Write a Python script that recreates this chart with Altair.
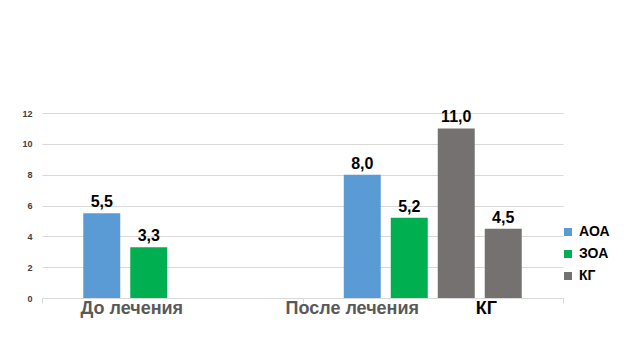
import altair as alt
import pandas as pd

categories = ["До лечения", "До лечения", "После лечения", "После лечения", "После лечения", "После лечения"]
slots = [1, 2, 1, 2, 3, 4]
groups = ["АОА", "ЗОА", "АОА", "ЗОА", "КГ", "КГ"]
values = [5.5, 3.3, 8.0, 5.2, 11.0, 4.5]

cat_order = ["До лечения", "После лечения"]
legend_names = ["АОА", "ЗОА", "КГ"]
legend_colors = ["#5B9BD5", "#00B050", "#767171"]
y_ticks = [0, 2, 4, 6, 8, 10, 12]

df = pd.DataFrame({"cat": categories, "slot": slots, "group": groups, "value": values})

W, H = 521, 185
FONT = "Liberation Sans"

x_enc = alt.X("cat:N", sort=cat_order,
              scale=alt.Scale(domain=cat_order, paddingInner=0, paddingOuter=0),
              axis=alt.Axis(title=None, labels=False, domain=False, tickBand="extent",
                            tickSize=5, tickColor="#d9d9d9", grid=False))
xo_enc = alt.XOffset("slot:O", scale=alt.Scale(domain=[1, 2, 3, 4], paddingInner=0.213, paddingOuter=0.878))
y_enc = alt.Y("value:Q", scale=alt.Scale(domain=[0, 12]),
              axis=alt.Axis(title=None, values=y_ticks, ticks=False, domain=False,
                            labelFont=FONT, labelFontWeight="bold", labelFontSize=9,
                            labelColor="#404040", labelPadding=10,
                            gridColor="#d9d9d9", gridWidth=1))

base = alt.Chart(df)

bars = base.mark_bar().encode(
    x=x_enc, xOffset=xo_enc, y=y_enc,
    color=alt.Color("group:N", scale=alt.Scale(domain=legend_names, range=legend_colors),
                    legend=alt.Legend(title=None, orient="none", legendX=519, legendY=112,
                                      symbolType="square", symbolSize=64, symbolStrokeWidth=0,
                                      labelFont=FONT, labelFontWeight="bold", labelFontSize=14,
                                      labelColor="#000000", rowPadding=8, labelOffset=4)),
)

labels = base.mark_text(baseline="alphabetic", dy=-6, font=FONT, fontWeight="bold",
                        fontSize=16, color="#000000").transform_calculate(
    lbl="replace(format(datum.value, '.1f'), '.', ',')"
).encode(x=x_enc, xOffset=xo_enc, y=y_enc, text="lbl:N")

cat_labels = pd.DataFrame({"cat": ["До лечения", "После лечения", "После лечения"],
                           "slot": [2, 1, 4],
                           "txt": ["До лечения", "После лечения", "КГ"],
                           "value": [0, 0, 0]})
cl = alt.Chart(cat_labels)
cat_layers = []
for txt, dx, col in [("До лечения", -17, "#595959"), ("После лечения", -10, "#595959"), ("КГ", -17, "#000000")]:
    cat_layers.append(
        cl.mark_text(baseline="middle", dy=11, dx=dx, font=FONT, fontWeight="bold",
                     fontSize=18, color=col)
        .transform_filter(alt.datum.txt == txt)
        .encode(x=x_enc, xOffset=xo_enc, y=y_enc, text="txt:N")
    )

chart = alt.layer(bars, labels, *cat_layers).properties(
    width=W, height=H,
    autosize=alt.AutoSizeParams(type="none"),
    padding={"left": 34, "top": 105, "right": 69, "bottom": 54},
).configure_view(stroke=None)

chart.save("out.html", embed_options={"renderer": "svg", "actions": False})
